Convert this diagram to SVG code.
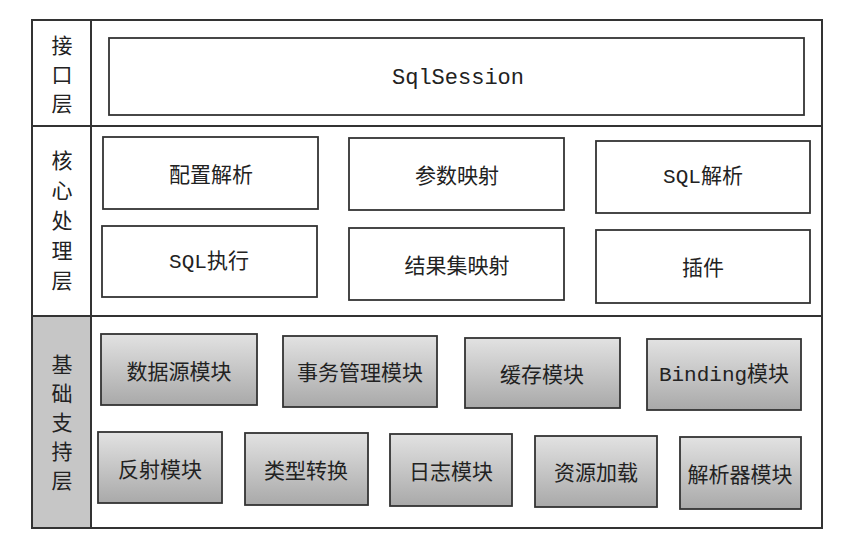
<svg xmlns="http://www.w3.org/2000/svg" width="848" height="542" viewBox="0 0 848 542">
<defs>
<linearGradient id="g" x1="0" y1="0" x2="0" y2="1">
<stop offset="0" stop-color="#e2e2e2"/>
<stop offset="1" stop-color="#a9a9a9"/>
</linearGradient>
<style>
.frame{fill:none;stroke:#333;stroke-width:2}
.w{fill:#fff;stroke:#333;stroke-width:1.8}
.s{fill:url(#g);stroke:#333;stroke-width:1.8}
.t{font-family:"Noto Sans CJK SC","Noto Sans",sans-serif;font-size:21px;fill:#222;text-anchor:middle;dominant-baseline:central}
.m{font-family:"Liberation Mono","Noto Sans CJK SC",monospace;font-size:21px;fill:#222;text-anchor:middle;dominant-baseline:central}
.lab{font-family:"Noto Sans CJK SC",sans-serif;font-size:21px;fill:#222;text-anchor:middle;dominant-baseline:central}
</style>
</defs>
<rect x="0" y="0" width="848" height="542" fill="#fff"/>
<g id="layers">
<rect x="32" y="316" width="59" height="212" fill="#c6c6c6"/>
<rect class="frame" x="32" y="20" width="790" height="508"/>
<line x1="91" y1="20" x2="91" y2="528" stroke="#333" stroke-width="2"/>
<line x1="32" y1="126" x2="822" y2="126" stroke="#333" stroke-width="2"/>
<line x1="32" y1="316" x2="822" y2="316" stroke="#333" stroke-width="2"/>
</g>
<g id="label-interface">
<text class="lab" x="62" y="44">接</text>
<text class="lab" x="62" y="73">口</text>
<text class="lab" x="62" y="102">层</text>
</g>
<g id="label-core">
<text class="lab" x="62" y="159">核</text>
<text class="lab" x="62" y="189">心</text>
<text class="lab" x="62" y="219">处</text>
<text class="lab" x="62" y="249">理</text>
<text class="lab" x="62" y="279">层</text>
</g>
<g id="label-base">
<text class="lab" x="62" y="363">基</text>
<text class="lab" x="62" y="392">础</text>
<text class="lab" x="62" y="421">支</text>
<text class="lab" x="62" y="450">持</text>
<text class="lab" x="62" y="479">层</text>
</g>
<g id="sqlsession"><rect class="w" x="109" y="38" width="695" height="77"/><text class="m" x="458" y="78" style="font-size:22px">SqlSession</text></g>
<g id="pzjx"><rect class="w" x="103" y="137" width="215" height="72"/><text class="t" x="211" y="173">配置解析</text></g>
<g id="csys"><rect class="w" x="349" y="138" width="215" height="72"/><text class="t" x="457" y="174">参数映射</text></g>
<g id="sqljx"><rect class="w" x="596" y="141" width="214" height="72"/><text class="m" x="703" y="177">SQL解析</text></g>
<g id="sqlzx"><rect class="w" x="102" y="226" width="215" height="71"/><text class="m" x="209" y="262">SQL执行</text></g>
<g id="jgjys"><rect class="w" x="349" y="228" width="215" height="72"/><text class="t" x="457" y="264">结果集映射</text></g>
<g id="cj"><rect class="w" x="596" y="230" width="214" height="73"/><text class="t" x="703" y="266">插件</text></g>
<g id="sjy"><rect class="s" x="101" y="334" width="156" height="71"/><text class="t" x="179" y="370">数据源模块</text></g>
<g id="swgl"><rect class="s" x="283" y="336" width="154" height="71"/><text class="t" x="360" y="371">事务管理模块</text></g>
<g id="hc"><rect class="s" x="465" y="338" width="155" height="70"/><text class="t" x="542" y="373">缓存模块</text></g>
<g id="binding"><rect class="s" x="647" y="339" width="154" height="71"/><text class="m" x="724" y="375">Binding模块</text></g>
<g id="fs"><rect class="s" x="98" y="432" width="124" height="71"/><text class="t" x="160" y="468">反射模块</text></g>
<g id="lxzh"><rect class="s" x="245" y="433" width="123" height="72"/><text class="t" x="306" y="469">类型转换</text></g>
<g id="rz"><rect class="s" x="390" y="434" width="122" height="72"/><text class="t" x="451" y="470">日志模块</text></g>
<g id="zyjz"><rect class="s" x="535" y="436" width="122" height="71"/><text class="t" x="596" y="471">资源加载</text></g>
<g id="jxq"><rect class="s" x="680" y="437" width="121" height="72"/><text class="t" x="740" y="473">解析器模块</text></g>
<g id="connectors"/>
</svg>
